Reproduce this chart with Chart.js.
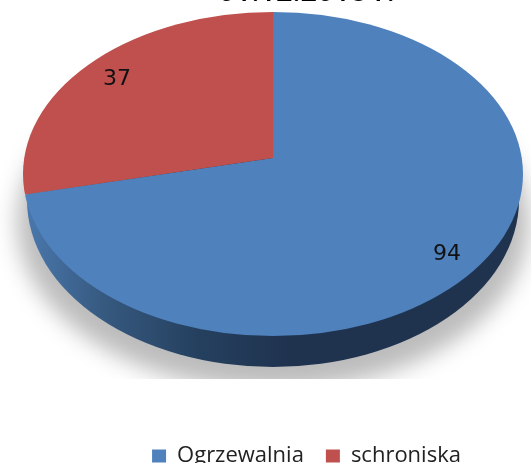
<!DOCTYPE html>
<html>
<head>
<meta charset="utf-8">
<script src="https://cdn.jsdelivr.net/npm/chart.js@4"></script>
<style>
  html, body { margin: 0; padding: 0; background: #fff; overflow: hidden; }
  canvas { display: block; }
</style>
</head>
<body>
<canvas id="pieChart" width="531" height="463"></canvas>
<script>
const categories = ['Ogrzewalnia', 'schroniska'];
const shelterValues = [94, 37];
const sliceColors = ['#4f81bd', '#c0504d'];
const chartTitle = '01.12.2018 r.';

// where the 3D pie sits: ellipse outline and the off-centre hub (perspective)
const rim = { x: 273, y: 174, rx: 250, ry: 162 };
const hub = { x: 273, y: 158 };
const RADIUS = 300;
const valueLabelPos = [[447, 254], [117, 79]];

function ellipse(ctx, x, y, rx, ry) {
  ctx.beginPath();
  ctx.ellipse(x, y, rx, ry, 0, 0, Math.PI * 2);
}

// piecewise squash of the round pie: upper and lower half get different heights
function drawPieHalf(chart, meta, clipY, clipH, ratioY) {
  const ctx = chart.ctx;
  const arc = meta.data[0];
  ctx.save();
  ctx.beginPath();
  ctx.rect(0, clipY, 531, clipH);
  ctx.clip();
  ctx.translate(hub.x, hub.y);
  ctx.scale(1, ratioY);
  ctx.translate(-arc.x, -arc.y);
  meta.controller.draw();
  ctx.restore();
}

const pie3d = {
  id: 'pie3d',
  beforeDatasetsDraw(chart) {
    const ctx = chart.ctx;
    const meta = chart.getDatasetMeta(0);

    // soft shadow, cut off hard at the bottom
    ctx.save();
    ctx.beginPath();
    ctx.rect(0, 0, 531, 379);
    ctx.clip();
    ctx.filter = 'blur(11px)';
    ctx.fillStyle = '#bcbcbc';
    ellipse(ctx, 273, 222, 256, 168);
    ctx.fill();
    ctx.restore();

    // side wall
    const wall = ctx.createLinearGradient(25, 0, 290, 0);
    wall.addColorStop(0, '#4a78ad');
    wall.addColorStop(0.3, '#36597f');
    wall.addColorStop(0.65, '#25405f');
    wall.addColorStop(1, '#1f334f');
    ctx.fillStyle = wall;
    ellipse(ctx, rim.x, 200, 246, 167);
    ctx.fill();

    // top face
    ctx.save();
    ellipse(ctx, rim.x, rim.y, rim.rx, rim.ry);
    ctx.clip();
    drawPieHalf(chart, meta, 0, hub.y + 0.5, (hub.y - 12) / 250);
    drawPieHalf(chart, meta, hub.y, 463 - hub.y, (336 - hub.y) / 250);
    ctx.restore();

    // value labels
    ctx.fillStyle = '#111';
    ctx.font = '22px "DejaVu Sans"';
    ctx.textAlign = 'center';
    ctx.textBaseline = 'middle';
    shelterValues.forEach((v, i) => {
      ctx.fillText(String(v), valueLabelPos[i][0], valueLabelPos[i][1]);
    });
    return false;
  }
};

new Chart(document.getElementById('pieChart').getContext('2d'), {
  type: 'pie',
  data: {
    labels: categories,
    datasets: [{
      data: shelterValues,
      backgroundColor: sliceColors,
      borderWidth: 0
    }]
  },
  options: {
    responsive: false,
    animation: false,
    radius: RADIUS,
    layout: { padding: { left: 82, right: 0, top: 0, bottom: -14 } },
    plugins: {
      tooltip: { enabled: false },
      title: {
        display: true,
        text: chartTitle,
        color: '#000',
        font: { family: '"Open Sans"', size: 29, weight: '600' },
        padding: { top: -25, bottom: 0 }
      },
      legend: {
        position: 'bottom',
        labels: {
          color: '#222',
          font: { family: '"Open Sans"', size: 22 },
          boxWidth: 14,
          boxHeight: 13,
          padding: 22
        }
      }
    }
  },
  plugins: [pie3d]
});
</script>
</body>
</html>
